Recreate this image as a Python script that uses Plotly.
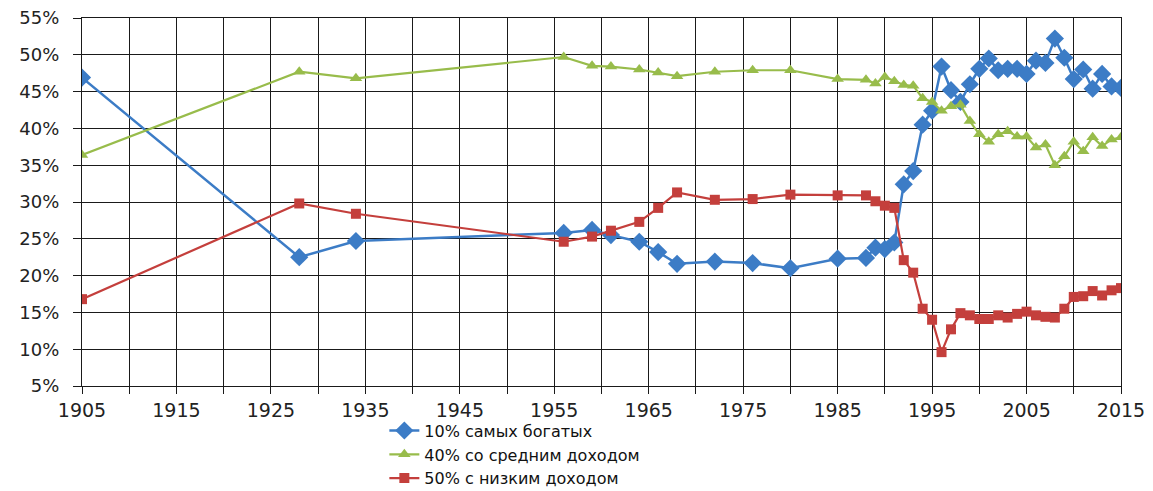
import plotly.graph_objects as go

years = [1905, 1928, 1934, 1956, 1959, 1961, 1964, 1966, 1968, 1972, 1976, 1980, 1985, 1988, 1989, 1990, 1991,
         1992, 1993, 1994, 1995, 1996, 1997, 1998, 1999, 2000, 2001, 2002, 2003, 2004, 2005, 2006, 2007, 2008,
         2009, 2010, 2011, 2012, 2013, 2014, 2015]
top10 = [46.9, 22.5, 24.7, 25.8, 26.2, 25.5, 24.6, 23.2, 21.6, 21.9, 21.7, 21.0, 22.3, 22.4, 23.8, 23.6, 24.5,
         32.4, 34.2, 40.5, 42.4, 48.4, 45.2, 43.6, 46.0, 48.1, 49.5, 47.9, 48.1, 48.1, 47.4, 49.2, 48.9, 52.2,
         49.6, 46.7, 48.0, 45.4, 47.4, 45.7, 45.5]
mid40 = [36.4, 47.7, 46.8, 49.7, 48.5, 48.4, 48.0, 47.6, 47.1, 47.7, 47.9, 47.9, 46.7, 46.6, 46.1, 47.0, 46.4,
         45.9, 45.8, 44.1, 43.6, 42.4, 43.0, 43.2, 41.0, 39.2, 38.2, 39.2, 39.6, 38.9, 38.9, 37.4, 37.8, 35.0,
         36.2, 38.2, 36.9, 38.8, 37.6, 38.5, 38.8]
low50 = [16.8, 29.8, 28.4, 24.6, 25.3, 26.1, 27.3, 29.2, 31.3, 30.3, 30.4, 31.0, 30.9, 30.9, 30.1, 29.5, 29.2,
         22.1, 20.4, 15.5, 14.0, 9.6, 12.7, 14.9, 14.6, 14.1, 14.1, 14.6, 14.3, 14.8, 15.1, 14.6, 14.4, 14.3,
         15.5, 17.1, 17.2, 17.9, 17.3, 18.0, 18.3]

names = ["10% самых богатых", "40% со средним доходом", "50% с низким доходом"]
x_ticks = list(range(1905, 2016, 5))
x_text = [str(v) if (v - 1905) % 10 == 0 else "" for v in x_ticks]

FONT = "DejaVu Sans, Verdana, sans-serif"

fig = go.Figure()
fig.add_trace(go.Scatter(x=years, y=top10, name=names[0], mode="lines+markers",
                         line=dict(color="#3C7CC6", width=2.5),
                         marker=dict(symbol="diamond", size=14, color="#3C7CC6")))
fig.add_trace(go.Scatter(x=years, y=mid40, name=names[1], mode="lines+markers",
                         line=dict(color="#98BC4B", width=2.2),
                         marker=dict(symbol="triangle-up", size=11, color="#98BC4B")))
fig.add_trace(go.Scatter(x=years, y=low50, name=names[2], mode="lines+markers",
                         line=dict(color="#C43F3C", width=2.2),
                         marker=dict(symbol="square", size=10, color="#C43F3C")))

fig.update_layout(
    width=1153, height=491,
    margin=dict(l=74, r=40, t=10, b=113, autoexpand=False),
    paper_bgcolor="white", plot_bgcolor="white",
    font=dict(family=FONT, size=17, color="#222222"),
    showlegend=True,
    legend=dict(orientation="v", x=0.291, y=-0.075, xanchor="left", yanchor="top",
                font=dict(size=16, color="#111111"), tracegroupgap=0, itemwidth=30,
                bgcolor="rgba(0,0,0,0)"),
    xaxis=dict(range=[1905, 2015], tickvals=x_ticks, ticktext=x_text,
               showgrid=True, gridcolor="#1a1a1a", gridwidth=1.3,
               ticks="outside", ticklen=7, tickcolor="#1a1a1a",
               showline=True, linecolor="#1a1a1a", linewidth=1.3, mirror=True,
               zeroline=False, tickfont=dict(size=19), ticklabeloverflow="allow"),
    yaxis=dict(range=[5, 55], dtick=5, tick0=5, ticksuffix="%",
               showgrid=True, gridcolor="#1a1a1a", gridwidth=1.3,
               ticks="outside", ticklen=8, tickcolor="#1a1a1a",
               showline=True, linecolor="#1a1a1a", linewidth=1.3, mirror=True,
               zeroline=False, tickfont=dict(size=18), ticklabeloverflow="allow",
               ticklabelstandoff=10),
)

fig.write_html("out.html")
